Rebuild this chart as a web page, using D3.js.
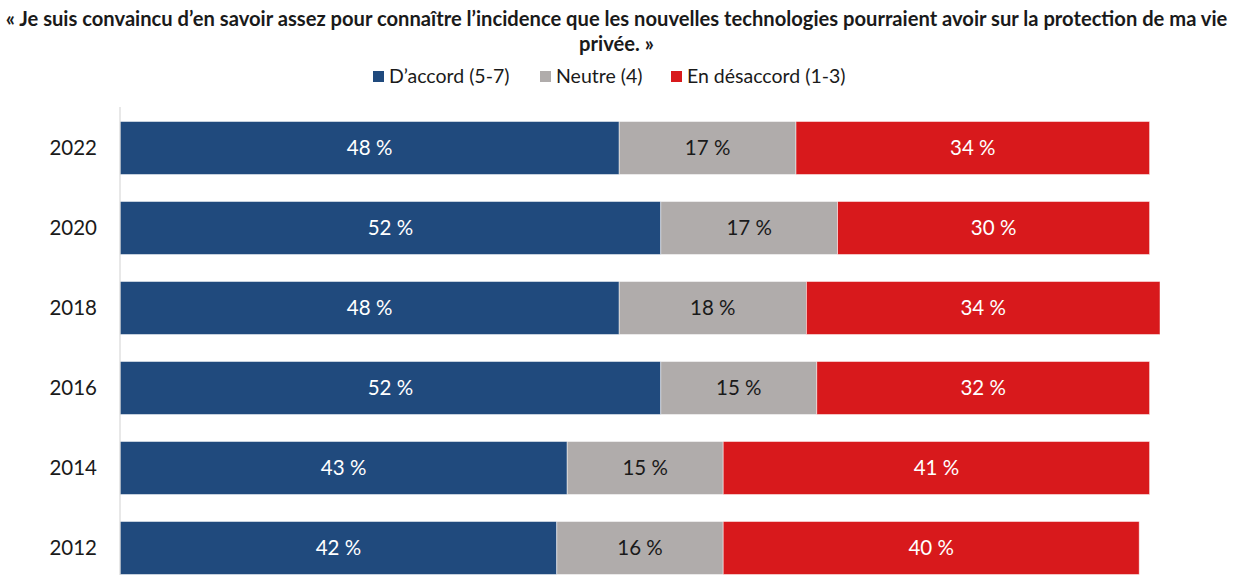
<!DOCTYPE html>
<html>
<head>
<meta charset="utf-8">
<script src="https://cdn.jsdelivr.net/npm/d3@7"></script>
<style>
  html, body { margin: 0; padding: 0; background: #fff; }
  svg { display: block; font-family: Lato, "Open Sans", sans-serif; }
</style>
</head>
<body>
<svg id="chart" width="1239" height="575"></svg>
<script>
// Survey results by year (percent)
const years = ["2022", "2020", "2018", "2016", "2014", "2012"];
const agree = [48, 52, 48, 52, 43, 42];
const neutral = [17, 17, 18, 15, 15, 16];
const disagree = [34, 30, 34, 32, 41, 40];

const seriesNames = ["D\u2019accord (5-7)", "Neutre (4)", "En d\u00e9saccord (1-3)"];
const seriesColors = ["#204a7d", "#b0acab", "#d8191c"];
const labelColors = ["#ffffff", "#1a1a1a", "#ffffff"];

const titleLines = [
  "\u00ab Je suis convaincu d\u2019en savoir assez pour conna\u00eetre l\u2019incidence que les nouvelles technologies pourraient avoir sur la protection de ma vie",
  "priv\u00e9e. \u00bb"
];

const svg = d3.select("#chart");
const W = 1239, H = 575;

const rows = years.map((y, i) => ({ year: y, agree: agree[i], neutral: neutral[i], disagree: disagree[i] }));
const keys = ["agree", "neutral", "disagree"];
const stacked = d3.stack().keys(keys)(rows);

const x = d3.scaleLinear().domain([0, 100]).range([120, 1160]);
const y = d3.scaleBand().domain(years).range([108, 588]).paddingInner(0.3375).paddingOuter(0.16875);

// Title, sized so the first line spans the page width
const title = svg.append("g").attr("font-weight", 700).attr("font-size", 17)
  .attr("font-family", "Lato, sans-serif").attr("fill", "#1a1a1a").attr("text-anchor", "middle");
titleLines.forEach((t, i) => {
  title.append("text").attr("x", W / 2 - 3).attr("y", 26 + i * 25).text(t);
});
const first = title.select("text").node();
const fw = first.getComputedTextLength();
const titleSize = 17 * 1222 / fw;
title.selectAll("text").attr("font-size", titleSize);

// Legend
const legendPos = [373, 540, 671];
const legend = svg.append("g");
seriesNames.forEach((name, i) => {
  const g = legend.append("g").attr("transform", `translate(${legendPos[i]},0)`);
  g.append("rect").attr("x", 0).attr("y", 71).attr("width", 11).attr("height", 11).attr("fill", seriesColors[i]);
  g.append("text").attr("x", 16).attr("y", 83).attr("font-size", 19.5).attr("fill", "#1a1a1a").text(name);
});

// Bars
const layers = svg.append("g").selectAll("g").data(stacked).join("g")
  .attr("fill", (d, i) => seriesColors[i]);

layers.selectAll("rect").data(d => d).join("rect")
  .attr("x", d => x(d[0]))
  .attr("y", d => y(d.data.year))
  .attr("width", d => x(d[1]) - x(d[0]))
  .attr("height", y.bandwidth())
  .attr("stroke", "rgba(255,255,255,0.6)")
  .attr("stroke-width", 0.8);

// Value labels
layers.each(function (layer, li) {
  d3.select(this).selectAll("text").data(layer).join("text")
    .attr("x", d => (x(d[0]) + x(d[1])) / 2)
    .attr("y", d => y(d.data.year) + y.bandwidth() / 2)
    .attr("dy", "0.36em")
    .attr("text-anchor", "middle")
    .attr("font-size", 20.5)
    .attr("fill", labelColors[li])
    .text(d => `${d[1] - d[0]} %`);
});

// Category axis
const yAxis = svg.append("g").attr("transform", "translate(120,0)")
  .call(d3.axisLeft(y).tickSize(0).tickPadding(23));
yAxis.select(".domain").attr("stroke", "#d9d9d9").attr("stroke-width", 1.2)
  .attr("d", `M0,107V${H}`);
yAxis.selectAll(".tick text").attr("font-size", 20.5).attr("fill", "#1a1a1a")
  .attr("font-family", "Lato, 'Open Sans', sans-serif");
</script>
</body>
</html>
